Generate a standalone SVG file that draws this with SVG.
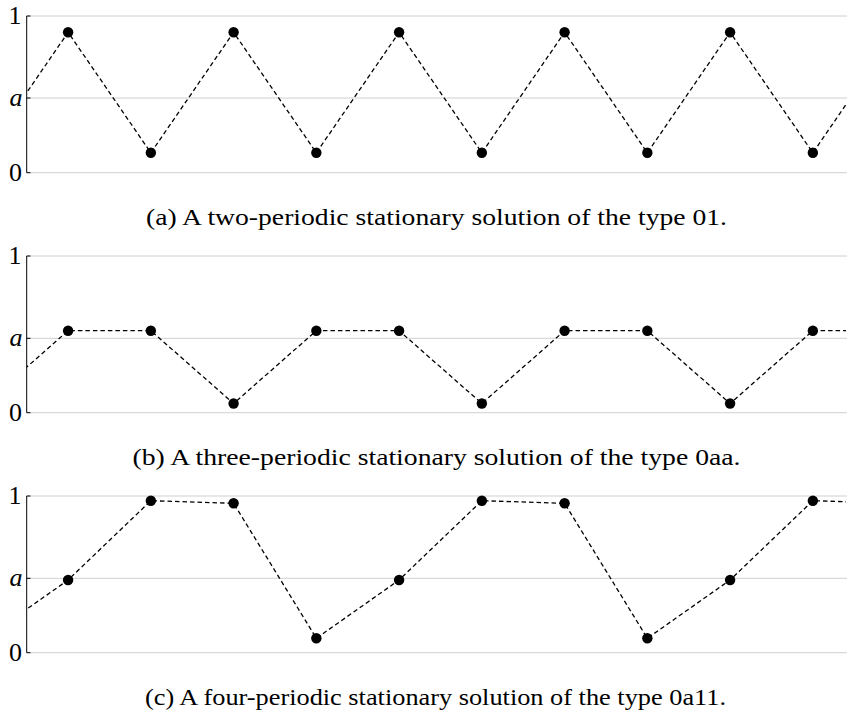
<svg xmlns="http://www.w3.org/2000/svg" width="847" height="713" viewBox="0 0 847 713">
<style>
.grid{stroke:#d0d0d0;stroke-width:1;fill:none}
.axis{stroke:#000;stroke-width:1;fill:none}
.data{stroke:#000;stroke-width:1.3;fill:none;stroke-dasharray:4.5 3}
.dot{fill:#000}
.lab{font-family:"Liberation Serif","DejaVu Serif",serif;font-size:26px;fill:#000;text-anchor:end}
.it{font-style:italic}
.cap{font-family:"Liberation Serif","DejaVu Serif",serif;font-size:22.5px;fill:#000;text-anchor:middle}
.typ{font-family:"Liberation Serif",serif}
</style>
<defs>
<clipPath id="clip"><rect x="26.7" y="0" width="819.3" height="713"/></clipPath>
</defs>

<g id="panel-a">
<line class="grid" x1="26.7" y1="16" x2="847" y2="16"/>
<line class="grid" x1="26.7" y1="98" x2="847" y2="98"/>
<line class="grid" x1="26.7" y1="172.7" x2="847" y2="172.7"/>
<line class="axis" x1="26.7" y1="16" x2="26.7" y2="172.7"/>
<line class="axis" x1="26.7" y1="16" x2="30.5" y2="16"/>
<line class="axis" x1="26.7" y1="98" x2="30.5" y2="98"/>
<line class="axis" x1="26.7" y1="172.7" x2="30.5" y2="172.7"/>
<text class="lab" x="21.5" y="24">1</text>
<text class="lab it" x="22.5" y="106">a</text>
<text class="lab" x="22" y="180.5">0</text>
</g>

<g id="panel-b">
<line class="grid" x1="26.7" y1="256" x2="847" y2="256"/>
<line class="grid" x1="26.7" y1="338.3" x2="847" y2="338.3"/>
<line class="grid" x1="26.7" y1="412.7" x2="847" y2="412.7"/>
<line class="axis" x1="26.7" y1="256" x2="26.7" y2="412.7"/>
<line class="axis" x1="26.7" y1="256" x2="30.5" y2="256"/>
<line class="axis" x1="26.7" y1="338.3" x2="30.5" y2="338.3"/>
<line class="axis" x1="26.7" y1="412.7" x2="30.5" y2="412.7"/>
<text class="lab" x="21.5" y="264">1</text>
<text class="lab it" x="22.5" y="346.3">a</text>
<text class="lab" x="22" y="420.5">0</text>
</g>

<g id="panel-c">
<line class="grid" x1="26.7" y1="496" x2="847" y2="496"/>
<line class="grid" x1="26.7" y1="578.3" x2="847" y2="578.3"/>
<line class="grid" x1="26.7" y1="652.7" x2="847" y2="652.7"/>
<line class="axis" x1="26.7" y1="496" x2="26.7" y2="652.7"/>
<line class="axis" x1="26.7" y1="496" x2="30.5" y2="496"/>
<line class="axis" x1="26.7" y1="578.3" x2="30.5" y2="578.3"/>
<line class="axis" x1="26.7" y1="652.7" x2="30.5" y2="652.7"/>
<text class="lab" x="21.5" y="504">1</text>
<text class="lab it" x="22.5" y="586.3">a</text>
<text class="lab" x="22" y="660.5">0</text>
</g>

<g id="connectors" clip-path="url(#clip)">
<polyline class="data" points="-14.65,152.8 68.1,32.3 150.85,152.8 233.6,32.3 316.35,152.8 399.1,32.3 481.85,152.8 564.6,32.3 647.35,152.8 730.1,32.3 812.85,152.8 895.6,32.3"/>
<polyline class="data" points="-14.65,403.5 68.1,330.7 150.85,330.7 233.6,403.5 316.35,330.7 399.1,330.7 481.85,403.5 564.6,330.7 647.35,330.7 730.1,403.5 812.85,330.7 895.6,330.7"/>
<polyline class="data" points="-14.65,638.3 68.1,580 150.85,500.7 233.6,503.3 316.35,638.3 399.1,580 481.85,500.7 564.6,503.3 647.35,638.3 730.1,580 812.85,500.7 895.6,503.3"/>
</g>

<g id="points-a">
<circle class="dot" cx="68.1" cy="32.3" r="5.2"/>
<circle class="dot" cx="150.85" cy="152.8" r="5.2"/>
<circle class="dot" cx="233.6" cy="32.3" r="5.2"/>
<circle class="dot" cx="316.35" cy="152.8" r="5.2"/>
<circle class="dot" cx="399.1" cy="32.3" r="5.2"/>
<circle class="dot" cx="481.85" cy="152.8" r="5.2"/>
<circle class="dot" cx="564.6" cy="32.3" r="5.2"/>
<circle class="dot" cx="647.35" cy="152.8" r="5.2"/>
<circle class="dot" cx="730.1" cy="32.3" r="5.2"/>
<circle class="dot" cx="812.85" cy="152.8" r="5.2"/>
</g>
<g id="points-b">
<circle class="dot" cx="68.1" cy="330.7" r="5.2"/>
<circle class="dot" cx="150.85" cy="330.7" r="5.2"/>
<circle class="dot" cx="233.6" cy="403.5" r="5.2"/>
<circle class="dot" cx="316.35" cy="330.7" r="5.2"/>
<circle class="dot" cx="399.1" cy="330.7" r="5.2"/>
<circle class="dot" cx="481.85" cy="403.5" r="5.2"/>
<circle class="dot" cx="564.6" cy="330.7" r="5.2"/>
<circle class="dot" cx="647.35" cy="330.7" r="5.2"/>
<circle class="dot" cx="730.1" cy="403.5" r="5.2"/>
<circle class="dot" cx="812.85" cy="330.7" r="5.2"/>
</g>
<g id="points-c">
<circle class="dot" cx="68.1" cy="580" r="5.2"/>
<circle class="dot" cx="150.85" cy="500.7" r="5.2"/>
<circle class="dot" cx="233.6" cy="503.3" r="5.2"/>
<circle class="dot" cx="316.35" cy="638.3" r="5.2"/>
<circle class="dot" cx="399.1" cy="580" r="5.2"/>
<circle class="dot" cx="481.85" cy="500.7" r="5.2"/>
<circle class="dot" cx="564.6" cy="503.3" r="5.2"/>
<circle class="dot" cx="647.35" cy="638.3" r="5.2"/>
<circle class="dot" cx="730.1" cy="580" r="5.2"/>
<circle class="dot" cx="812.85" cy="500.7" r="5.2"/>
</g>

<g id="captions">
<text class="cap" x="436.5" y="225" textLength="581" lengthAdjust="spacingAndGlyphs">(a) A two-periodic stationary solution of the type <tspan class="typ">01</tspan>.</text>
<text class="cap" x="436.5" y="465" textLength="608" lengthAdjust="spacingAndGlyphs">(b) A three-periodic stationary solution of the type <tspan class="typ">0aa</tspan>.</text>
<text class="cap" x="435.5" y="705" textLength="581" lengthAdjust="spacingAndGlyphs">(c) A four-periodic stationary solution of the type <tspan class="typ">0a11</tspan>.</text>
</g>
</svg>
